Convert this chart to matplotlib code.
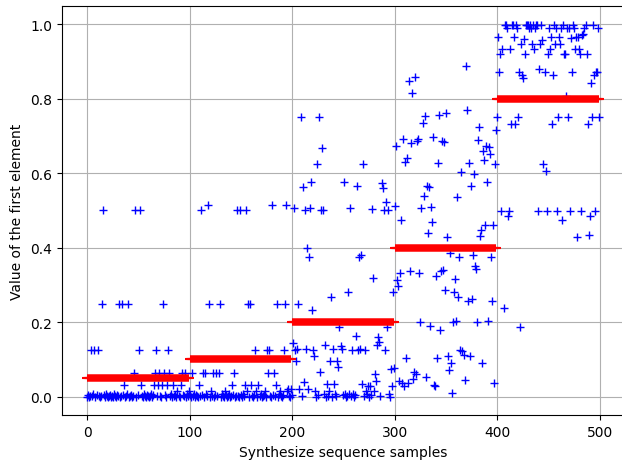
import numpy as np
import matplotlib
matplotlib.use("Agg")
import matplotlib.pyplot as plt

# Target level of each block of samples
levels = [0.05, 0.1, 0.2, 0.4, 0.8]
seg_len = 100

seg1 = [0.0, 0.004, 0.0, 0.002, 0.125, 0.001, 0.008, 0.125, 0.0, 0.004,
        0.125, 0.002, 0.0, 0.001, 0.25, 0.5, 0.004, 0.0, 0.008, 0.002,
        0.0, 0.001, 0.004, 0.0, 0.002, 0.0, 0.008, 0.001, 0.0, 0.004,
        0.002, 0.25, 0.0, 0.001, 0.25, 0.004, 0.031, 0.0, 0.002, 0.008,
        0.25, 0.0, 0.001, 0.004, 0.0, 0.002, 0.0625, 0.5, 0.0, 0.004,
        0.125, 0.5, 0.031, 0.001, 0.0, 0.008, 0.002, 0.0, 0.004, 0.001,
        0.0, 0.002, 0.008, 0.0, 0.004, 0.031, 0.0625, 0.125, 0.001, 0.031,
        0.0625, 0.002, 0.0, 0.031, 0.25, 0.0625, 0.004, 0.0, 0.031, 0.125,
        0.0625, 0.002, 0.008, 0.0, 0.031, 0.001, 0.004, 0.0, 0.016, 0.002,
        0.0, 0.031, 0.0625, 0.004, 0.001, 0.0625, 0.0, 0.008, 0.002, 0.016]
seg2 = [0.004, 0.0, 0.0625, 0.002, 0.008, 0.0, 0.004, 0.001, 0.0, 0.031,
        0.002, 0.5, 0.004, 0.0625, 0.0, 0.0625, 0.008, 0.001, 0.516, 0.25,
        0.0, 0.016, 0.002, 0.0625, 0.0, 0.004, 0.0625, 0.001, 0.0625, 0.25,
        0.0, 0.008, 0.002, 0.0, 0.016, 0.004, 0.0, 0.001, 0.008, 0.0,
        0.002, 0.031, 0.004, 0.0625, 0.0, 0.001, 0.5, 0.002, 0.0, 0.5,
        0.004, 0.0, 0.008, 0.001, 0.031, 0.5, 0.016, 0.25, 0.0, 0.25,
        0.031, 0.002, 0.0, 0.004, 0.125, 0.016, 0.0, 0.031, 0.001, 0.008,
        0.0, 0.002, 0.004, 0.016, 0.0, 0.125, 0.0625, 0.125, 0.001, 0.0,
        0.516, 0.004, 0.0625, 0.002, 0.031, 0.25, 0.0, 0.008, 0.016, 0.001,
        0.0, 0.004, 0.125, 0.25, 0.516, 0.016, 0.02, 0.002, 0.0, 0.021]
seg3 = [0.004, 0.143, 0.507, 0.126, 0.097, 0.128, 0.25, 0.021, 0.752, 0.002,
        0.564, 0.039, 0.5, 0.128, 0.4, 0.021, 0.374, 0.507, 0.577, 0.233,
        0.126, 0.11, 0.016, 0.0, 0.624, 0.004, 0.75, 0.066, 0.5, 0.669,
        0.5, 0.007, 0.14, 0.0, 0.034, 0.002, 0.016, 0.097, 0.269, 0.0,
        0.128, 0.034, 0.007, 0.001, 0.095, 0.079, 0.186, 0.136, 0.128, 0.004,
        0.577, 0.007, 0.0, 0.002, 0.28, 0.007, 0.507, 0.001, 0.126, 0.007,
        0.0, 0.004, 0.162, 0.567, 0.126, 0.374, 0.128, 0.38, 0.034, 0.624,
        0.002, 0.126, 0.016, 0.007, 0.03, 0.0, 0.03, 0.004, 0.504, 0.318,
        0.016, 0.061, 0.043, 0.139, 0.16, 0.146, 0.002, 0.573, 0.561, 0.5,
        0.126, 0.522, 0.186, 0.5, 0.007, 0.0, 0.074, 0.03, 0.28, 0.076]
seg4 = [0.513, 0.674, 0.314, 0.296, 0.043, 0.331, 0.475, 0.036, 0.692, 0.03,
        0.629, 0.104, 0.641, 0.037, 0.847, 0.338, 0.68, 0.815, 0.047, 0.065,
        0.859, 0.061, 0.687, 0.692, 0.331, 0.2, 0.507, 0.734, 0.538, 0.755,
        0.054, 0.567, 0.439, 0.562, 0.191, 0.509, 0.47, 0.698, 0.032, 0.03,
        0.325, 0.103, 0.627, 0.756, 0.179, 0.338, 0.687, 0.341, 0.683, 0.287,
        0.761, 0.43, 0.108, 0.072, 0.385, 0.09, 0.009, 0.2, 0.28, 0.316,
        0.204, 0.537, 0.269, 0.376, 0.126, 0.603, 0.122, 0.112, 0.045, 0.889,
        0.77, 0.256, 0.627, 0.11, 0.567, 0.262, 0.381, 0.598, 0.352, 0.343,
        0.201, 0.689, 0.725, 0.431, 0.448, 0.09, 0.659, 0.636, 0.461, 0.674,
        0.577, 0.202, 0.671, 0.651, 0.376, 0.256, 0.461, 0.038, 0.625, 0.717]
seg5 = [0.75, 0.965, 0.873, 0.92, 0.498, 0.934, 0.238, 0.998, 0.998, 0.99,
        0.486, 0.498, 0.934, 0.732, 0.998, 0.998, 0.965, 0.732, 0.998, 0.99,
        0.75, 0.873, 0.186, 0.947, 0.863, 0.855, 0.96, 0.92, 0.998, 0.998,
        0.998, 0.99, 0.998, 0.99, 0.947, 0.998, 0.934, 0.99, 0.998, 0.998,
        0.498, 0.88, 0.947, 0.998, 0.958, 0.625, 0.873, 0.607, 0.498, 0.92,
        0.99, 0.934, 0.965, 0.732, 0.863, 0.998, 0.947, 0.99, 0.498, 0.75,
        0.965, 0.947, 0.99, 0.475, 0.998, 0.92, 0.92, 0.808, 0.99, 0.75,
        0.99, 0.498, 0.962, 0.873, 0.998, 0.99, 0.934, 0.965, 0.43, 0.965,
        0.934, 0.92, 0.498, 0.972, 0.975, 0.99, 0.998, 0.92, 0.732, 0.434,
        0.486, 0.842, 0.75, 0.998, 0.863, 0.498, 0.873, 0.873, 0.99, 0.75]

xticks = [0, 100, 200, 300, 400, 500]
yticks = [0.0, 0.2, 0.4, 0.6, 0.8, 1.0]

samples = np.array(seg1 + seg2 + seg3 + seg4 + seg5)
x = np.arange(len(samples))

plt.rcParams['font.family'] = ['DejaVu Sans']
plt.rcParams['font.size'] = 10

fig = plt.figure(figsize=(6.22, 4.64), dpi=100)
ax = fig.add_axes([0.0992, 0.1028, 0.9047, 0.8828])

ax.plot(x, samples, 'b+', markersize=5.5, markeredgewidth=1.0, zorder=3)

for i, lev in enumerate(levels):
    xs = np.arange(i * seg_len, (i + 1) * seg_len)
    ys = np.full(seg_len, lev)
    ax.plot(xs, ys, color='red', linewidth=5.4, solid_capstyle='butt', zorder=4)
    ax.plot(xs, ys, 'r_', markersize=6.5, markeredgewidth=1.5, zorder=4)

ax.set_xlim(-24.95, 523.95)
ax.set_ylim(-0.05, 1.05)
ax.set_xticks(xticks)
ax.set_yticks(yticks)
ax.grid(True)
ax.set_xlabel("Synthesize sequence samples")
ax.set_ylabel("Value of the first element")

fig.savefig("out.png", dpi=100)
